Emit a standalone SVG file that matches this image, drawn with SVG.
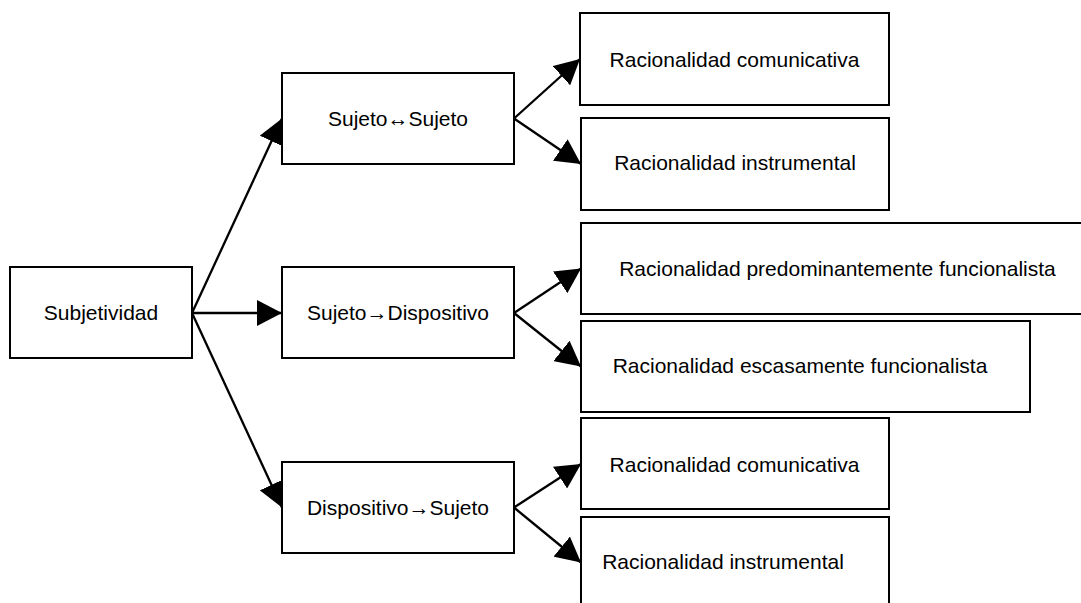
<svg xmlns="http://www.w3.org/2000/svg" width="1081" height="603" viewBox="0 0 1081 603">
  <style>
    .box { fill: #ffffff; stroke: #000000; stroke-width: 2; }
    .lbl { font-family: "Liberation Sans", Arial, sans-serif; font-size: 21px; fill: #000000; text-anchor: middle; }
    .conn { stroke: #000000; stroke-width: 2.3; fill: none; marker-end: url(#arrow); }
  </style>
  <defs>
    <marker id="arrow" markerUnits="userSpaceOnUse" markerWidth="26" markerHeight="26" refX="25" refY="13" orient="auto">
      <path d="M0,0 L25,13 L0,26 Z" fill="#000000"/>
    </marker>
  </defs>
  <rect x="0" y="0" width="1081" height="603" fill="#ffffff"/>
  <g id="connectors">
    <line class="conn" x1="192" y1="313" x2="282" y2="118.5"/>
    <line class="conn" x1="192" y1="313" x2="282" y2="313"/>
    <line class="conn" x1="192" y1="313" x2="282" y2="507.5"/>
    <line class="conn" x1="514" y1="118.5" x2="580" y2="59"/>
    <line class="conn" x1="514" y1="118.5" x2="581" y2="164"/>
    <line class="conn" x1="514" y1="313" x2="581" y2="268.5"/>
    <line class="conn" x1="514" y1="313" x2="581" y2="366.5"/>
    <line class="conn" x1="514" y1="507.5" x2="581" y2="464"/>
    <line class="conn" x1="514" y1="507.5" x2="581" y2="562.5"/>
  </g>
  <g id="n-subjetividad">
    <rect class="box" x="10" y="267" width="182" height="91"/>
    <text class="lbl" x="101" y="320">Subjetividad</text>
  </g>
  <g id="n-sujeto-sujeto">
    <rect class="box" x="282" y="73" width="232" height="91"/>
    <text class="lbl" x="398" y="126">Sujeto↔Sujeto</text>
  </g>
  <g id="n-sujeto-dispositivo">
    <rect class="box" x="282" y="267" width="232" height="91"/>
    <text class="lbl" x="398" y="320">Sujeto→Dispositivo</text>
  </g>
  <g id="n-dispositivo-sujeto">
    <rect class="box" x="282" y="462" width="232" height="91"/>
    <text class="lbl" x="398" y="515">Dispositivo→Sujeto</text>
  </g>
  <g id="n-comunicativa-1">
    <rect class="box" x="580" y="13" width="309" height="92"/>
    <text class="lbl" x="734.5" y="67">Racionalidad comunicativa</text>
  </g>
  <g id="n-instrumental-1">
    <rect class="box" x="581" y="118" width="308" height="92"/>
    <text class="lbl" x="735" y="170">Racionalidad instrumental</text>
  </g>
  <g id="n-predominantemente">
    <rect class="box" x="581" y="223" width="520" height="91"/>
    <text class="lbl" x="837.5" y="276">Racionalidad predominantemente funcionalista</text>
  </g>
  <g id="n-escasamente">
    <rect class="box" x="581" y="321" width="449" height="91"/>
    <text class="lbl" x="800" y="373">Racionalidad escasamente funcionalista</text>
  </g>
  <g id="n-comunicativa-2">
    <rect class="box" x="581" y="418" width="308" height="91"/>
    <text class="lbl" x="734.5" y="472">Racionalidad comunicativa</text>
  </g>
  <g id="n-instrumental-2">
    <rect class="box" x="581" y="517" width="308" height="91"/>
    <text class="lbl" x="723" y="569">Racionalidad instrumental</text>
  </g>
</svg>
